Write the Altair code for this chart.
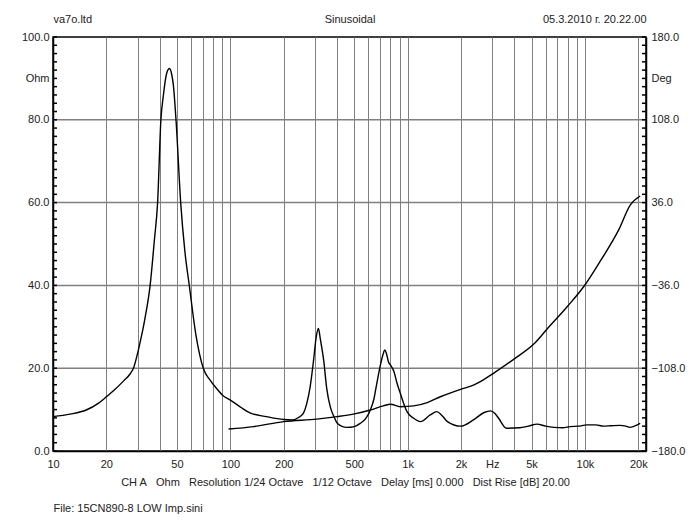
import altair as alt
import pandas as pd

# Impedance curve (Ohm)
imp_freq = [10, 12.5, 15.4, 18, 20, 22, 25.1, 27.2, 28.6, 30, 30.9, 33, 35.3, 37.3, 38.9, 40.6,
            41.9, 43.8, 45.4, 46.7, 47.7, 49.4, 52.5, 55.5, 58.7, 64, 70.4, 76.9, 83.7, 91.4,
            100, 115, 129, 160, 200, 223, 245, 259, 270, 282, 295, 305, 314, 322, 336, 350, 366,
            385, 401, 453, 500, 541, 580, 616, 645, 670, 700, 725, 744, 760, 780, 800, 837, 870,
            910, 950, 992, 1082, 1180, 1340, 1460, 1560, 1677, 1990, 2350, 2700, 2940, 3100,
            3260, 3610, 4280, 4800, 5370, 6000, 6710, 7500, 8250, 9200, 10230, 11500, 12720,
            14000, 15800, 17000, 17900, 19000, 20480]
imp_ohm = [8.3, 8.9, 9.9, 11.5, 13.1, 14.6, 17.0, 18.6, 20.3, 23.6, 26.0, 32.0, 40.0, 50.9, 60.0,
           80.0, 85.8, 91.3, 92.4, 91.0, 88.5, 80.0, 60.0, 48.0, 40.0, 28.0, 20.0, 17.1, 15.1,
           13.3, 12.3, 10.5, 9.2, 8.3, 7.6, 7.5, 8.2, 9.2, 11.5, 15.5, 22.0, 27.5, 29.6, 27.0,
           22.0, 15.0, 10.7, 8.2, 6.7, 5.7, 5.9, 6.7, 7.8, 9.9, 12.5, 16.3, 20.5, 23.2, 24.4,
           23.5, 21.5, 20.8, 19.2, 16.5, 13.9, 11.5, 9.5, 7.9, 7.1, 8.7, 9.5, 8.6, 7.1, 6.0, 7.5,
           9.3, 9.7, 9.1, 7.9, 5.5, 5.6, 6.0, 6.5, 6.0, 5.7, 5.6, 5.9, 6.0, 6.3, 6.3, 6.0, 6.1,
           6.2, 6.0, 5.7, 6.0, 6.7]

# Second (rising) curve, on the same left scale
ph_freq = [97.8, 135, 200, 307, 401, 494, 616, 730, 800, 910, 1082, 1290, 1530, 1990, 2350,
           2700, 3060, 3980, 5200, 6100, 7960, 10000, 12300, 15500, 18000, 20480]
ph_val = [5.3, 5.9, 7.1, 7.7, 8.3, 8.9, 9.9, 10.9, 11.3, 10.7, 10.9, 11.7, 13.1, 14.9, 15.9,
          17.3, 18.8, 22.2, 26.0, 29.4, 34.9, 40.1, 46.1, 53.4, 59.4, 61.6]

grid_freqs = [10, 20, 30, 40, 50, 60, 70, 80, 90, 100, 200, 300, 400, 500, 600, 700, 800, 900,
              1000, 2000, 3000, 4000, 5000, 6000, 7000, 8000, 9000, 10000, 20000]
NB = "\u00a0"
x_labels = {10: "10", 20: "20", 50: "50", 100: "100", 200: "200", 500: "500", 1000: "1k",
            2000: "2k", 3000: "Hz" + NB * 6, 5000: "5k", 10000: "10k", 20000: "20k"}
ohm_grid = [20.0, 40.0, 60.0, 80.0]
ohm_axis_values = [0, 20, 40, 60, 80, 90, 100]
ohm_minor = [float(v) for v in range(0, 101, 2)]

title_left = "va7o.ltd"
title_mid = "Sinusoidal"
title_right = "05.3.2010 г. 20.22.00"
sp = NB * 2
caption = ("CH A" + sp + " Ohm" + sp + " Resolution 1/24 Octave" + sp + " 1/12 Octave" + sp +
           " Delay [ms] 0.000" + sp + " Dist Rise [dB] 20.00")
file_line = "File: 15CN890-8 LOW Imp.sini"

W, H = 593, 414
FONT = "Liberation Sans"
TXT = "#222222"
GRID = "#808080"
FMIN, FMAX = 10, 22100

xlabel_expr = " : ".join([f"datum.value == {k} ? '{v}'" for k, v in x_labels.items()]) + " : ''"

xscale = alt.Scale(type="log", domain=[FMIN, FMAX], nice=False)
yscale = alt.Scale(domain=[0, 100], nice=False, zero=False)

text_style = dict(titleFont=FONT, titleFontSize=11, titleFontWeight="normal", titleColor=TXT,
                  titleAngle=0)

df = pd.concat([
    pd.DataFrame({"freq": imp_freq, "ohm": imp_ohm, "series": "imp"}),
    pd.DataFrame({"freq": ph_freq, "ohm": ph_val, "series": "rise"}),
])

hgrid = alt.Chart(pd.DataFrame({"g": ohm_grid})).mark_rule(color=GRID, strokeWidth=1.5).encode(
    y=alt.Y("g:Q", scale=yscale, axis=None), x=alt.value(0), x2=alt.value(W)
)

curves = alt.Chart(df).mark_line(color="black", strokeWidth=1.4, interpolate="monotone").encode(
    x=alt.X("freq:Q", scale=xscale, title=caption,
            axis=alt.Axis(orient="bottom", values=grid_freqs, grid=True, gridColor=GRID,
                          gridWidth=1, ticks=False, tickSize=0, labelExpr=xlabel_expr,
                          labelOverlap=False, labelFlush=False, labelPadding=7, labelFont=FONT,
                          labelFontSize=11, labelColor=TXT, domainColor="black",
                          domainWidth=1.5, titleX=292, titleY=31, titleAlign="center",
                          titleBaseline="middle", **text_style)),
    y=alt.Y("ohm:Q", scale=yscale, title=file_line,
            axis=alt.Axis(orient="left", values=ohm_axis_values, grid=False, ticks=False,
                          tickSize=0,
                          labelExpr="datum.value == 90 ? 'Ohm' : format(datum.value, '.1f')",
                          labelPadding=4, labelFont=FONT, labelFontSize=11, labelColor=TXT,
                          domainColor="black", domainWidth=1.5, titleX=0, titleY=471,
                          titleAlign="left", titleBaseline="middle", **text_style)),
    detail="series:N",
)

tick_df = pd.DataFrame({"tk": ohm_minor})
lticks = alt.Chart(tick_df).mark_rule(color="black", strokeWidth=1.5).encode(
    y=alt.Y("tk:Q", scale=yscale, axis=None), x=alt.value(0), x2=alt.value(4)
)
rticks = alt.Chart(tick_df).mark_rule(color="black", strokeWidth=1.5).encode(
    y=alt.Y("tk:Q", scale=yscale, axis=None), x=alt.value(W - 4), x2=alt.value(W)
)

# right-hand degree labels: same positions, Ohm 0..100 -> Deg -180..180
rlabels = alt.Chart(pd.DataFrame({"ohm": ohm_axis_values})).mark_point(opacity=0, size=1).encode(
    y=alt.Y("ohm:Q", scale=yscale, title=None,
            axis=alt.Axis(orient="right", values=ohm_axis_values, grid=False, ticks=False,
                          tickSize=0,
                          labelExpr="datum.value == 90 ? 'Deg' : format(datum.value * 3.6 - 180, '.1f')",
                          labelPadding=5, labelFont=FONT, labelFontSize=11, labelColor=TXT,
                          domainColor="black", domainWidth=1.5)),
    x=alt.value(0),
)

# top header line: left and right texts as flush labels, centre text as the axis title
top = alt.Chart(pd.DataFrame({"freq": [FMIN, FMAX]})).mark_point(opacity=0, size=1).encode(
    x=alt.X("freq:Q", scale=xscale, title=title_mid,
            axis=alt.Axis(orient="top", values=[FMIN, FMAX],
                          labelExpr=f"datum.value == {FMIN} ? '{title_left}' : '{title_right}'",
                          labelFlush=True, labelOverlap=False, labelBaseline="middle",
                          labelPadding=18, labelFont=FONT, labelFontSize=11, labelColor=TXT,
                          ticks=False, tickSize=0, domain=False, grid=False,
                          titleX=W / 2, titleY=-18, titleAlign="center",
                          titleBaseline="middle", **text_style)),
    y=alt.value(0),
)

chart = alt.layer(
    rlabels, top, hgrid, curves, lticks, rticks,
).resolve_axis(x="independent", y="independent").properties(
    width=W, height=H,
    padding={"left": 45, "top": 29, "right": 42, "bottom": 70},
    autosize=alt.AutoSizeParams(type="none"),
    background="white",
).configure_view(stroke="black", strokeWidth=1.5)

chart.save("out.html", embed_options={"renderer": "svg", "actions": False})
